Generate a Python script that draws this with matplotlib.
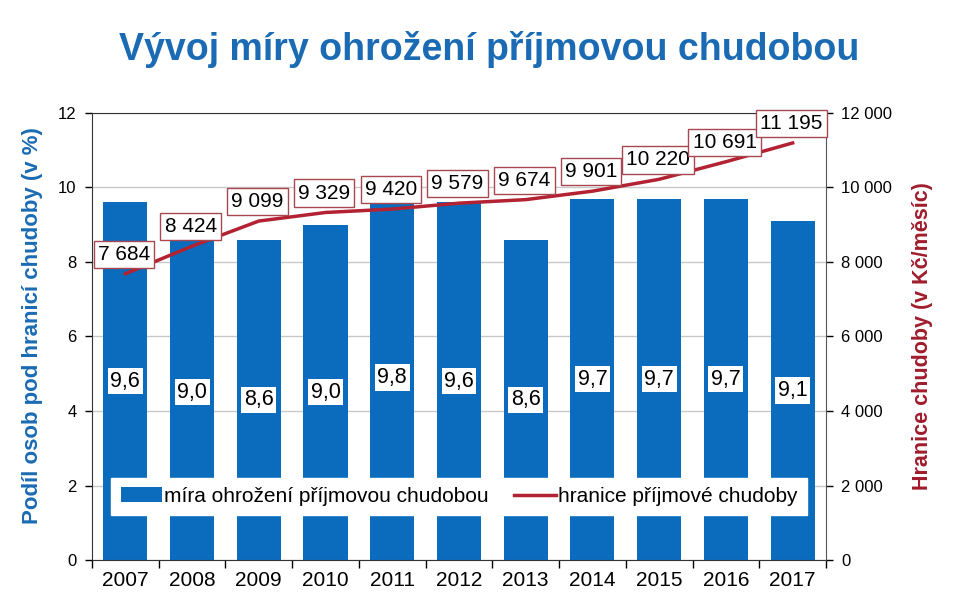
import numpy as np
import matplotlib.pyplot as plt
from matplotlib.ticker import FuncFormatter, FixedLocator

plt.rcParams['font.family'] = ['Liberation Sans', 'DejaVu Sans']

years = ['2007', '2008', '2009', '2010', '2011', '2012', '2013', '2014', '2015', '2016', '2017']
rate = [9.6, 9.0, 8.6, 9.0, 9.8, 9.6, 8.6, 9.7, 9.7, 9.7, 9.1]
threshold = [7684, 8424, 9099, 9329, 9420, 9579, 9674, 9901, 10220, 10691, 11195]

blue = '#0b6cbd'
red = '#b22232'
title_blue = '#1a6bb3'

def cz_thousands(v, pos=None):
    return f"{int(round(v)):,}".replace(",", " ")

fig = plt.figure(figsize=(9.78, 6.15), dpi=100)
ax = fig.add_axes([0.094, 0.0894, 0.7506, 0.7269])
ax2 = ax.twinx()

x = np.arange(len(years))
bars = ax.bar(x, rate, width=0.66, color=blue, zorder=2, label='míra ohrožení příjmovou chudobou')
ax.set_xlim(-0.5, len(years) - 0.5)
ax.set_ylim(0, 12)
ax.set_yticks(np.arange(0, 13, 2))
ax.grid(axis='y', color='#c8c8c8', linewidth=1, zorder=0)
ax.set_axisbelow(True)

# category labels at centres, tick marks at boundaries
ax.set_xticks(x)
ax.set_xticklabels(years, fontsize=15)
ax.tick_params(axis='x', which='major', length=0, pad=8)
ax.xaxis.set_minor_locator(FixedLocator(np.arange(-0.5, len(years), 1)))
ax.tick_params(axis='x', which='minor', length=6, direction='out', width=1)
ax.tick_params(axis='y', labelsize=12, length=5, width=1, pad=6)

for spine in ['left', 'bottom', 'top']:
    ax.spines[spine].set_color('#333333')
ax.spines['right'].set_visible(False)

for xi, v in zip(x, rate):
    ax.text(xi, v / 2, f"{v:.1f}".replace('.', ','), ha='center', va='center', fontsize=15.5,
            bbox=dict(boxstyle='square,pad=0.12', fc='white', ec='none'), zorder=5)

line, = ax2.plot(x, threshold, color=red, linewidth=2.5, zorder=3, label='hranice příjmové chudoby')
ax2.set_ylim(0, 12000)
ax2.set_yticks(np.arange(0, 12001, 2000))
ax2.yaxis.set_major_formatter(FuncFormatter(cz_thousands))
ax2.tick_params(axis='y', labelsize=12, length=5, width=1, pad=6)
ax2.spines['right'].set_color('#555555')
for spine in ['left', 'bottom', 'top']:
    ax2.spines[spine].set_visible(False)

for xi, v in zip(x, threshold):
    ax2.annotate(cz_thousands(v), (xi, v), xytext=(-1, 14), textcoords='offset points',
                 ha='center', va='center', fontsize=15,
                 bbox=dict(boxstyle='square,pad=0.2', fc='white', ec='#a8474f', lw=1), zorder=6)

ax.set_ylabel('Podíl osob pod hranicí chudoby (v %)', color=title_blue, fontsize=16,
              fontweight='bold', labelpad=10)
ax.yaxis.set_label_coords(-0.066, 0.525)
ax2.set_ylabel('Hranice chudoby (v Kč/měsíc)', color='#a01c2c', fontsize=15.5,
               fontweight='bold', labelpad=14)

leg = ax2.legend([bars, line], [bars.get_label(), line.get_label()], ncol=2,
                 loc='lower center', bbox_to_anchor=(0.5, 0.1), fontsize=15,
                 frameon=True, fancybox=False, edgecolor='white', framealpha=1,
                 handlelength=2.0, handletextpad=0.1, columnspacing=1.2,
                 borderpad=0.45, borderaxespad=0)
leg.set_zorder(10)

fig.text(0.5, 0.92, 'Vývoj míry ohrožení příjmovou chudobou', ha='center', va='center',
         fontsize=27, fontweight='bold', color=title_blue)

fig.savefig('out.png', dpi=100)
